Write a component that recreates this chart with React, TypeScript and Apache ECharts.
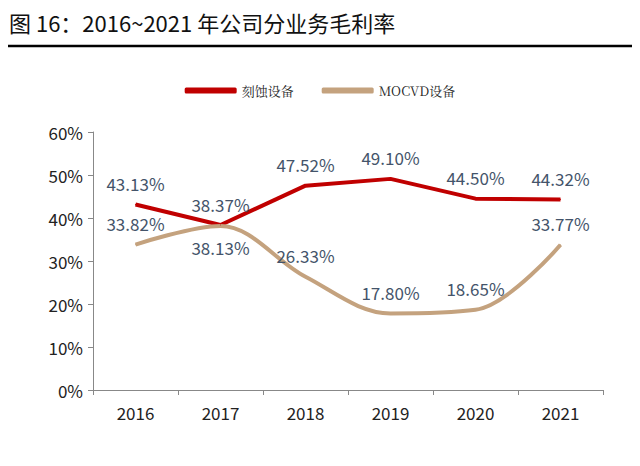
import React, { useEffect, useRef } from 'react';
import * as echarts from 'echarts';

const years = ['2016', '2017', '2018', '2019', '2020', '2021'];
const etching = [43.13, 38.37, 47.52, 49.1, 44.5, 44.32];
const mocvd = [33.82, 38.13, 26.33, 17.8, 18.65, 33.77];
const mocvdLabelPos = ['top', 'bottom', 'top', 'top', 'top', 'top'];

const labelColor = '#44546A';

const App: React.FC = () => {
  const ref = useRef<HTMLDivElement>(null);

  useEffect(() => {
    if (!ref.current) return;
    const chart = echarts.init(ref.current, undefined, { renderer: 'svg' });
    chart.setOption({
      animation: false,
      textStyle: { fontFamily: '"Noto Sans CJK SC", Arial, sans-serif' },
      title: {
        text: '图 16：2016~2021 年公司分业务毛利率',
        left: 4,
        top: 6,
        textStyle: { fontSize: 22, fontWeight: 'normal', color: '#111' },
      },
      graphic: [
        { type: 'line', shape: { x1: 0, y1: 46, x2: 640, y2: 46 }, style: { stroke: '#000', lineWidth: 2.5 } },
      ],
      legend: {
        top: 79,
        left: 'center',
        itemWidth: 52,
        itemHeight: 6,
        itemGap: 28,
        icon: 'roundRect',
        textStyle: { fontSize: 13, color: '#222', fontFamily: '"Noto Serif CJK SC", "DejaVu Serif", serif' },
        data: ['刻蚀设备', 'MOCVD设备'],
      },
      grid: { left: 93, right: 37, top: 132, bottom: 76 },
      xAxis: {
        type: 'category',
        data: years,
        axisLine: { lineStyle: { color: '#888' } },
        axisTick: { show: true, lineStyle: { color: '#888' } },
        axisLabel: { fontSize: 17, color: '#222', margin: 14 },
      },
      yAxis: {
        type: 'value',
        min: 0,
        max: 60,
        interval: 10,
        axisLine: { show: true, lineStyle: { color: '#888' } },
        axisTick: { show: true, lineStyle: { color: '#888' } },
        splitLine: { show: false },
        axisLabel: { fontSize: 17, color: '#222', formatter: '{value}%', margin: 10 },
      },
      series: [
        {
          name: '刻蚀设备',
          type: 'line',
          data: etching,
          symbol: 'circle',
          symbolSize: 1,
          showSymbol: true,
          lineStyle: { color: '#C00000', width: 4 },
          itemStyle: { color: '#C00000' },
          label: { show: true, position: 'top', distance: 12, fontSize: 17, color: labelColor, formatter: (p: any) => p.value.toFixed(2) + '%' },
        },
        {
          name: 'MOCVD设备',
          type: 'line',
          smooth: 0.35,
          data: mocvd.map((v, i) => ({ value: v, label: { position: mocvdLabelPos[i] } })),
          symbol: 'circle',
          symbolSize: 1,
          showSymbol: true,
          lineStyle: { color: '#C4A27E', width: 4 },
          itemStyle: { color: '#C4A27E' },
          label: { show: true, distance: 12, fontSize: 17, color: labelColor, formatter: (p: any) => p.value.toFixed(2) + '%' },
        },
      ],
    });
    return () => chart.dispose();
  }, []);

  return <div ref={ref} style={{ width: 640, height: 466, margin: -8 }} />;
};

export default App;
